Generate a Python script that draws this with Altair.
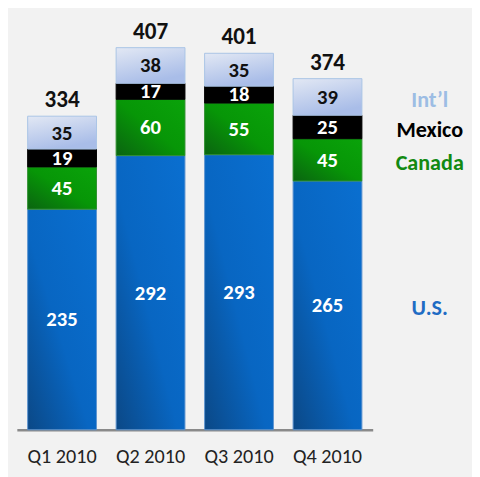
import altair as alt
import pandas as pd

quarters = ["Q1 2010", "Q2 2010", "Q3 2010", "Q4 2010"]
series = ["U.S.", "Canada", "Mexico", "Int\u2019l"]
us = [235, 292, 293, 265]
canada = [45, 60, 55, 45]
mexico = [19, 17, 18, 25]
intl = [35, 38, 35, 39]
totals = [334, 407, 401, 374]

values = {"U.S.": us, "Canada": canada, "Mexico": mexico, "Int\u2019l": intl}
rows = []
for i, q in enumerate(quarters):
    start = 0
    for s in series:
        v = values[s][i]
        rows.append({"quarter": q, "series": s, "value": v,
                     "start": start, "end": start + v, "mid": start + v / 2})
        start += v
df = pd.DataFrame(rows)
tot = pd.DataFrame({"quarter": quarters, "total": totals})

FONT = "Carlito, Lato"
xenc = alt.X("quarter:N", sort=quarters,
             scale=alt.Scale(paddingInner=0.222, paddingOuter=0.122),
             axis=alt.Axis(title=None, labelAngle=0, ticks=False, labelFontSize=20.5,
                           labelColor="#222222", labelFont=FONT, labelPadding=17,
                           domainColor="#8a8a8a", domainWidth=2.5))
yscale = alt.Scale(domain=[0, 445], nice=False)

grad = {
    "U.S.": alt.Gradient(gradient="linear", x1=1, y1=0, x2=0, y2=1,
                         stops=[alt.GradientStop(offset=0, color="#0a6fd0"),
                                alt.GradientStop(offset=0.55, color="#0866c2"),
                                alt.GradientStop(offset=1, color="#0b4886")]),
    "Canada": alt.Gradient(gradient="linear", x1=1, y1=0, x2=0, y2=1,
                           stops=[alt.GradientStop(offset=0, color="#0aa30a"),
                                  alt.GradientStop(offset=0.5, color="#079607"),
                                  alt.GradientStop(offset=1, color="#0a6410")]),
    "Mexico": "#000000",
    "Int\u2019l": alt.Gradient(gradient="linear", x1=0, y1=0, x2=0.4, y2=1,
                               stops=[alt.GradientStop(offset=0, color="#e2e8f4"),
                                      alt.GradientStop(offset=1, color="#a9bde8")]),
}
stroke = {"U.S.": "#5f95d0", "Canada": "#2f8f2f", "Mexico": "#000000", "Int\u2019l": "#a9c4e6"}

base = alt.Chart(df)
layers = []
for s in series:
    layers.append(
        base.transform_filter(alt.datum.series == s)
        .mark_bar(color=grad[s], stroke=stroke[s], strokeWidth=1)
        .encode(x=xenc,
                y=alt.Y("start:Q", scale=yscale, axis=None),
                y2="end:Q")
    )

seg_labels = base.mark_text(font=FONT, fontWeight="bold", fontSize=21, baseline="middle", dy=1).encode(
    x=alt.X("quarter:N", sort=quarters),
    y=alt.Y("mid:Q", scale=yscale),
    text="value:Q",
    color=alt.Color("series:N", scale=alt.Scale(domain=series,
                    range=["#ffffff", "#ffffff", "#ffffff", "#111111"]), legend=None),
)

tot_labels = alt.Chart(tot).mark_text(font=FONT, fontSize=23.5, fontWeight=600, baseline="bottom",
                                       dy=-4, color="#111111").encode(
    x=alt.X("quarter:N", sort=quarters),
    y=alt.Y("total:Q", scale=yscale),
    text="total:Q",
)

legend_df = df[df["quarter"] == quarters[-1]]
legend_labels = alt.Chart(legend_df).mark_text(font=FONT, fontSize=22.5, fontWeight="bold",
                                               baseline="middle", align="center", dx=104, dy=3).encode(
    x=alt.X("quarter:N", sort=quarters),
    y=alt.Y("mid:Q", scale=yscale),
    text="series:N",
    color=alt.Color("series:N", scale=alt.Scale(domain=series,
                    range=["#1f6cc4", "#128a12", "#000000", "#9dbde4"]), legend=None),
)

chart = alt.layer(*layers, seg_labels, tot_labels, legend_labels).resolve_scale(color="independent").properties(
    width=362, height=425, background="#f2f2f2",
    autosize=alt.AutoSizeParams(type="none"),
    padding={"left": 9, "top": 0, "right": 101, "bottom": 44},
).configure_view(stroke=None)

chart.save("out.html", embed_options={"renderer": "svg", "actions": False})
